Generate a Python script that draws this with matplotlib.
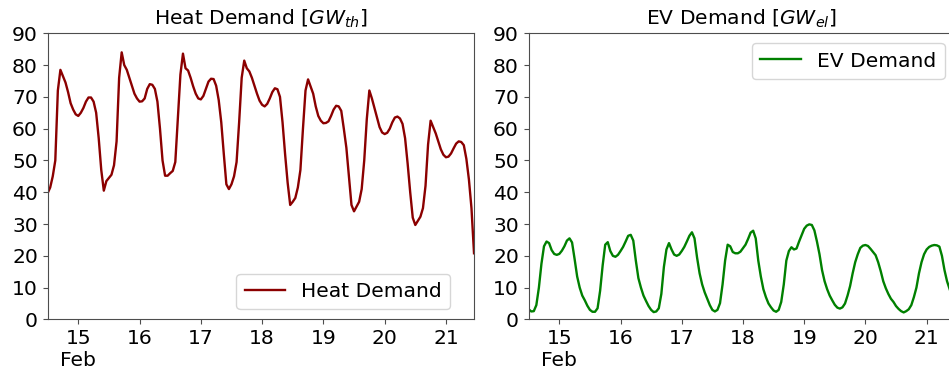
import matplotlib
matplotlib.use("Agg")
import matplotlib.pyplot as plt
import matplotlib.dates as mdates
import pandas as pd

# hourly values (start Feb 14 12:00)
start = "2019-02-14 12:00"

heat_demand = [
    39.7, 41.5, 45.0, 50.0, 72.0, 78.5, 76.5, 74.5, 71.5, 68.0, 66.0, 64.5,
    64.0, 65.0, 66.5, 68.5, 69.8, 69.8, 68.5, 65.0, 57.0, 47.0, 40.5, 43.5,
    44.5, 45.5, 48.5, 56.0, 76.0, 84.0, 80.0, 78.5, 76.0, 73.5, 71.0, 69.5,
    68.5, 68.6, 69.5, 72.5, 74.0, 73.8, 72.5, 68.5, 60.0, 50.0, 45.2, 45.2,
    46.0, 46.7, 49.5, 63.0, 77.0, 83.6, 79.0, 78.3, 76.0, 73.3, 71.0, 69.5,
    69.2, 70.3, 72.5, 74.8, 75.7, 75.6, 73.5, 69.0, 62.0, 52.0, 42.5, 41.0,
    42.5, 45.0, 49.5, 62.0, 76.0, 81.4, 79.0, 78.0, 76.0, 73.5, 71.0, 68.8,
    67.5, 67.0, 67.8, 69.5, 71.5, 72.7, 72.4, 70.0, 62.0, 52.0, 43.0, 36.0,
    37.0, 38.2, 41.5, 47.0, 60.0, 72.0, 75.5, 73.3, 71.0, 67.0, 64.0, 62.5,
    61.7, 61.8, 62.3, 64.0, 66.0, 67.2, 67.0, 65.6, 60.0, 54.0, 45.0, 36.0,
    34.0, 35.5, 37.0, 41.0, 50.0, 63.0, 72.0, 69.5, 66.5, 63.5, 60.5, 58.8,
    58.3, 58.7, 60.0, 62.0, 63.5, 63.8, 63.2, 61.5, 57.0, 49.0, 40.0, 32.0,
    29.7, 31.0, 32.3, 35.0, 42.0, 55.0, 62.5, 60.5, 58.5, 56.0, 53.5, 51.8,
    51.0, 51.2, 52.2, 53.8, 55.3, 56.0, 55.8, 54.8, 50.5, 44.0, 35.0, 20.8,
]

ev_demand = [
    3.2, 2.5, 2.6, 4.5, 10.0, 17.5, 23.0, 24.5, 24.0, 21.8, 20.6, 20.3,
    20.6, 21.6, 23.0, 24.8, 25.5, 24.2, 19.0, 13.5, 10.0, 7.5, 6.0, 4.3,
    3.0, 2.4, 2.4, 3.5, 9.0, 17.0, 23.5, 24.3, 21.5, 20.0, 19.7, 20.3,
    21.5, 22.8, 24.5, 26.3, 26.6, 24.8, 18.5, 13.0, 10.0, 7.5, 5.8, 4.2,
    3.0, 2.3, 2.5, 3.5, 8.0, 16.5, 22.0, 24.0, 22.0, 20.4, 20.0, 20.4,
    21.5, 22.8, 24.5, 26.3, 27.4, 25.5, 19.5, 14.5, 11.0, 8.5, 6.5, 4.5,
    3.0, 2.5, 3.0, 5.1, 11.0, 18.5, 23.5, 23.0, 21.2, 20.8, 20.8, 21.3,
    22.4, 23.5, 25.3, 27.3, 27.9, 25.5, 18.5, 13.5, 9.5, 7.0, 5.0, 3.8,
    2.8, 2.4, 3.0, 5.5, 11.0, 18.5, 21.5, 22.7, 22.0, 22.3, 24.5, 26.5,
    28.5, 29.5, 29.9, 29.7, 28.0, 24.5, 20.5, 15.5, 12.0, 9.5, 7.5, 6.0,
    4.6, 3.7, 3.4, 3.8, 5.0, 7.5, 10.5, 14.5, 18.0, 20.5, 22.5, 23.2,
    23.4, 23.1, 22.2, 21.2, 20.2, 18.0, 15.2, 12.0, 9.8, 8.0, 6.5, 5.5,
    4.2, 3.3, 2.6, 2.2, 2.6, 3.2, 4.5, 7.0, 10.0, 14.5, 18.0, 20.5,
    22.0, 22.8, 23.2, 23.4, 23.3, 22.9, 20.0, 15.5, 12.0, 9.5, 7.5, 6.0,
]

times = pd.date_range(start, periods=len(heat_demand), freq="h")

plt.rcParams["font.size"] = 14.6

fig = plt.figure(figsize=(9.49, 3.76), dpi=100)
ax1 = fig.add_axes([0.0502, 0.1505, 0.4493, 0.761])
ax2 = fig.add_axes([0.5571, 0.1505, 0.4489, 0.761])


def day_fmt(x, pos):
    d = mdates.num2date(x)
    if pos == 0:
        return "%d\n%s" % (d.day, d.strftime("%b"))
    return "%d" % d.day


panels = [
    (ax1, heat_demand, "#8b0000", "Heat Demand", r"Heat Demand [$GW_{th}$]",
     "lower right", (0.968, 0.0)),
    (ax2, ev_demand, "green", "EV Demand", r"EV Demand [$GW_{el}$]",
     "upper right", (1.0, 1.0)),
]
for ax, vals, col, lab, title, loc, anchor in panels:
    ax.plot(times, vals, color=col, linewidth=1.7, label=lab)
    ax.set_xlim(times[0], times[-1])
    ax.set_ylim(0, 90)
    ax.set_yticks(range(0, 91, 10))
    ax.xaxis.set_major_locator(mdates.DayLocator())
    ax.xaxis.set_major_formatter(plt.FuncFormatter(day_fmt))
    ax.set_title(title, fontsize=14.6)
    ax.legend(loc=loc, bbox_to_anchor=anchor)
    for spine in ax.spines.values():
        spine.set_color("0.3")
    ax.tick_params(colors="0.3", labelcolor="black")

fig.savefig("out.png", dpi=100)
